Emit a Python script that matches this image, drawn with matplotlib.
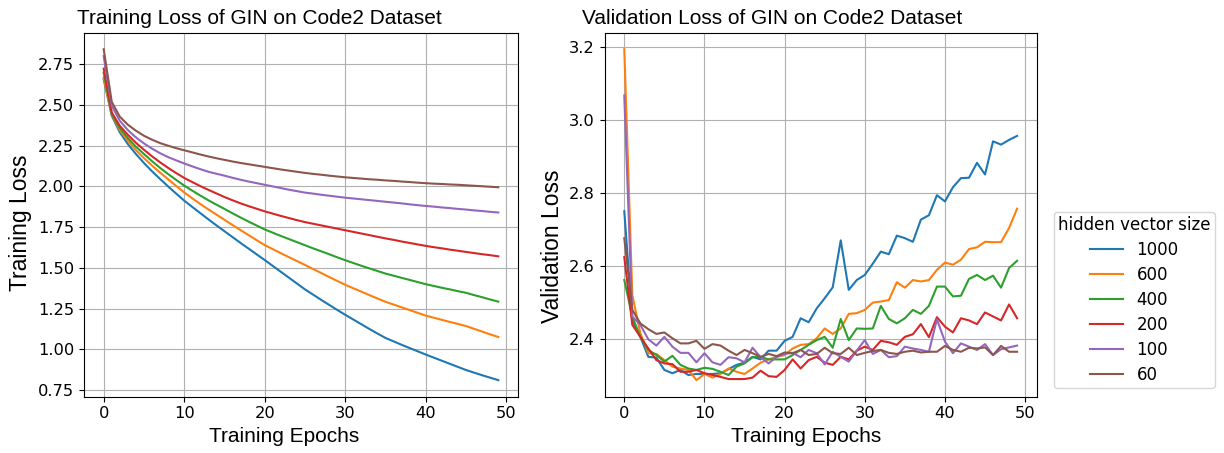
import matplotlib
matplotlib.use("Agg")
import matplotlib.pyplot as plt

epochs = list(range(50))
sizes = ["1000", "600", "400", "200", "100", "60"]

# training loss per hidden size
train_1000 = [2.658, 2.434, 2.332, 2.260, 2.199, 2.144, 2.093, 2.046, 2.000, 1.956,
              1.913, 1.874, 1.836, 1.798, 1.761, 1.725, 1.689, 1.653, 1.618, 1.583,
              1.548, 1.512, 1.476, 1.440, 1.404, 1.368, 1.336, 1.304, 1.273, 1.242,
              1.212, 1.183, 1.154, 1.125, 1.097, 1.070, 1.049, 1.028, 1.008, 0.988,
              0.968, 0.949, 0.930, 0.911, 0.892, 0.873, 0.857, 0.841, 0.826, 0.811]
train_600 = [2.668, 2.440, 2.346, 2.281, 2.223, 2.174, 2.128, 2.085, 2.044, 2.003,
             1.963, 1.927, 1.892, 1.859, 1.827, 1.795, 1.763, 1.732, 1.701, 1.670,
             1.640, 1.615, 1.590, 1.566, 1.542, 1.518, 1.493, 1.469, 1.444, 1.420,
             1.396, 1.375, 1.354, 1.333, 1.312, 1.292, 1.275, 1.258, 1.241, 1.224,
             1.207, 1.194, 1.181, 1.168, 1.156, 1.143, 1.126, 1.109, 1.092, 1.076]
train_400 = [2.699, 2.444, 2.358, 2.297, 2.244, 2.199, 2.155, 2.114, 2.076, 2.040,
             2.005, 1.974, 1.944, 1.915, 1.888, 1.862, 1.835, 1.809, 1.784, 1.760,
             1.736, 1.716, 1.696, 1.677, 1.658, 1.639, 1.620, 1.602, 1.584, 1.565,
             1.547, 1.530, 1.513, 1.497, 1.481, 1.465, 1.452, 1.439, 1.426, 1.413,
             1.400, 1.389, 1.378, 1.368, 1.357, 1.347, 1.333, 1.320, 1.306, 1.293]
train_200 = [2.723, 2.454, 2.372, 2.317, 2.268, 2.225, 2.185, 2.148, 2.114, 2.082,
             2.052, 2.027, 2.002, 1.979, 1.957, 1.935, 1.915, 1.896, 1.879, 1.863,
             1.847, 1.833, 1.819, 1.806, 1.793, 1.781, 1.771, 1.761, 1.751, 1.741,
             1.731, 1.721, 1.711, 1.701, 1.691, 1.681, 1.672, 1.662, 1.653, 1.644,
             1.635, 1.627, 1.620, 1.612, 1.605, 1.598, 1.591, 1.584, 1.578, 1.571]
train_100 = [2.800, 2.495, 2.403, 2.346, 2.301, 2.264, 2.232, 2.204, 2.180, 2.160,
             2.141, 2.123, 2.106, 2.090, 2.078, 2.066, 2.053, 2.041, 2.030, 2.020,
             2.010, 2.000, 1.990, 1.980, 1.971, 1.962, 1.956, 1.949, 1.943, 1.937,
             1.931, 1.926, 1.921, 1.916, 1.911, 1.906, 1.901, 1.896, 1.890, 1.885,
             1.880, 1.876, 1.871, 1.867, 1.862, 1.858, 1.853, 1.849, 1.844, 1.840]
train_60 = [2.842, 2.519, 2.428, 2.379, 2.342, 2.311, 2.287, 2.266, 2.250, 2.235,
            2.222, 2.209, 2.196, 2.184, 2.173, 2.163, 2.153, 2.144, 2.136, 2.128,
            2.120, 2.112, 2.104, 2.097, 2.090, 2.083, 2.077, 2.072, 2.066, 2.061,
            2.056, 2.052, 2.048, 2.044, 2.041, 2.037, 2.034, 2.030, 2.027, 2.023,
            2.020, 2.017, 2.015, 2.012, 2.010, 2.007, 2.004, 2.001, 1.998, 1.995]

# validation loss per hidden size
val_1000 = [2.750, 2.450, 2.405, 2.350, 2.348, 2.314, 2.305, 2.314, 2.300, 2.303,
            2.303, 2.303, 2.305, 2.316, 2.328, 2.334, 2.350, 2.343, 2.367, 2.367,
            2.394, 2.405, 2.456, 2.445, 2.483, 2.511, 2.541, 2.670, 2.534, 2.561,
            2.575, 2.606, 2.639, 2.632, 2.683, 2.676, 2.666, 2.727, 2.739, 2.794,
            2.777, 2.816, 2.841, 2.842, 2.883, 2.851, 2.942, 2.933, 2.946, 2.957]
val_600 = [3.195, 2.520, 2.415, 2.360, 2.358, 2.341, 2.323, 2.318, 2.314, 2.286,
           2.303, 2.293, 2.303, 2.318, 2.309, 2.303, 2.318, 2.334, 2.343, 2.350,
           2.355, 2.373, 2.383, 2.385, 2.401, 2.428, 2.413, 2.428, 2.468, 2.470,
           2.479, 2.499, 2.502, 2.506, 2.555, 2.540, 2.561, 2.557, 2.561, 2.589,
           2.609, 2.603, 2.617, 2.646, 2.651, 2.666, 2.665, 2.665, 2.704, 2.757]
val_400 = [2.561, 2.460, 2.405, 2.369, 2.355, 2.337, 2.353, 2.328, 2.318, 2.314,
           2.320, 2.317, 2.309, 2.300, 2.323, 2.332, 2.349, 2.350, 2.343, 2.343,
           2.343, 2.355, 2.369, 2.383, 2.396, 2.405, 2.375, 2.454, 2.396, 2.428,
           2.427, 2.428, 2.490, 2.454, 2.442, 2.456, 2.479, 2.468, 2.490, 2.543,
           2.543, 2.516, 2.518, 2.564, 2.575, 2.561, 2.573, 2.540, 2.594, 2.614]
val_200 = [2.624, 2.438, 2.405, 2.373, 2.341, 2.332, 2.330, 2.309, 2.309, 2.314,
           2.305, 2.300, 2.295, 2.289, 2.289, 2.289, 2.293, 2.312, 2.297, 2.295,
           2.314, 2.343, 2.318, 2.341, 2.350, 2.334, 2.328, 2.350, 2.343, 2.367,
           2.378, 2.369, 2.394, 2.390, 2.383, 2.405, 2.412, 2.440, 2.404, 2.459,
           2.433, 2.417, 2.456, 2.450, 2.440, 2.472, 2.461, 2.450, 2.494, 2.456]
val_100 = [3.068, 2.461, 2.438, 2.398, 2.381, 2.405, 2.378, 2.361, 2.361, 2.335,
           2.360, 2.335, 2.328, 2.349, 2.346, 2.335, 2.375, 2.349, 2.332, 2.350,
           2.358, 2.361, 2.349, 2.369, 2.360, 2.329, 2.364, 2.350, 2.337, 2.367,
           2.396, 2.358, 2.369, 2.349, 2.352, 2.378, 2.373, 2.369, 2.364, 2.453,
           2.392, 2.360, 2.387, 2.378, 2.369, 2.385, 2.355, 2.371, 2.376, 2.381]
val_60 = [2.676, 2.479, 2.442, 2.426, 2.413, 2.417, 2.401, 2.387, 2.387, 2.394,
          2.372, 2.385, 2.381, 2.367, 2.355, 2.369, 2.360, 2.350, 2.358, 2.352,
          2.362, 2.360, 2.369, 2.355, 2.358, 2.375, 2.360, 2.358, 2.375, 2.355,
          2.361, 2.366, 2.369, 2.361, 2.358, 2.364, 2.367, 2.362, 2.364, 2.364,
          2.380, 2.369, 2.364, 2.375, 2.373, 2.376, 2.355, 2.380, 2.364, 2.364]

train = [train_1000, train_600, train_400, train_200, train_100, train_60]
val = [val_1000, val_600, val_400, val_200, val_100, val_60]

LABEL_FONT = {"family": "Liberation Sans", "size": 15}
YLABEL_FONT = {"family": "Liberation Sans", "size": 16.5}

fig = plt.figure(figsize=(12.24, 4.53), dpi=100)
ax1 = fig.add_axes([0.0686, 0.1243, 0.3546, 0.8035])
ax2 = fig.add_axes([0.4940, 0.1243, 0.3530, 0.8035])

for ys, lab in zip(train, sizes):
    ax1.plot(epochs, ys, label=lab)
for ys, lab in zip(val, sizes):
    ax2.plot(epochs, ys, label=lab)

for ax in (ax1, ax2):
    ax.grid(True)
    ax.tick_params(labelsize=11.7)
    ax.set_xticks([0, 10, 20, 30, 40, 50])

ax1.set_title("Training Loss of GIN on Code2 Dataset", loc="left", x=-0.016, fontdict=LABEL_FONT)
ax2.set_title("Validation Loss of GIN on Code2 Dataset", loc="left", x=-0.053, fontdict=LABEL_FONT)
ax1.set_xlabel("Training Epochs", fontdict=LABEL_FONT, x=0.288, ha="left")
ax2.set_xlabel("Training Epochs", fontdict=LABEL_FONT, x=0.292, ha="left")
ax1.set_ylabel("Training Loss", fontdict=YLABEL_FONT, y=0.29, ha="left")
ax2.set_ylabel("Validation Loss", fontdict=YLABEL_FONT, y=0.2025, ha="left")

ax2.set_yticks([2.4, 2.6, 2.8, 3.0, 3.2])

ax2.legend(title="hidden vector size", loc="lower left", bbox_to_anchor=(1.02, 0),
           fontsize=12, title_fontsize=12, labelspacing=0.42, borderpad=0.25)

fig.savefig("out.png", dpi=100)
